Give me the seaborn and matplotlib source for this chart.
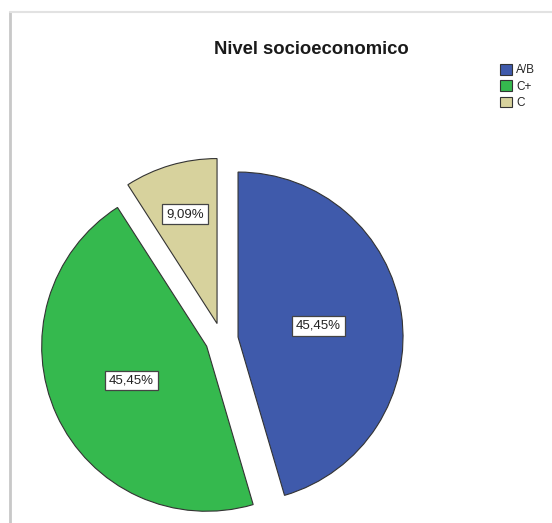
import matplotlib
matplotlib.use("Agg")
import matplotlib.pyplot as plt
from matplotlib.lines import Line2D
import numpy as np
import seaborn as sns

categories = ["A/B", "C+", "C"]
values = [45.45, 45.45, 9.09]
pct_labels = ["45,45%", "45,45%", "9,09%"]
colors = ["#3F5AAB", "#35B94E", "#D7D29D"]
title = "Nivel socioeconomico"

sns.set_theme(style="white")
plt.rcParams['font.family'] = ['Liberation Sans', 'DejaVu Sans']

W, H = 552, 523
fig = plt.figure(figsize=(W / 100, H / 100), dpi=100)
ax = fig.add_axes([0, 0, 1, 1])

cx, cy, R = 221.7, 339.4, 165.0  # pixel position of pie centre and radius

wedges, texts = ax.pie(values, colors=colors, startangle=90, counterclock=False,
                       explode=[0.1, 0.1, 0.1],
                       wedgeprops=dict(edgecolor="#333333", linewidth=0.8))

# label positions computed from the data (fraction of radius along mid angle)
total = sum(values)
start = 90.0
dist = [0.49, 0.5, 0.69]
for i, v in enumerate(values):
    ang = start - 360.0 * v / total / 2
    start -= 360.0 * v / total
    a = np.deg2rad(ang)
    ox, oy = 0.1 * np.cos(a), 0.1 * np.sin(a)
    ax.text(ox + dist[i] * np.cos(a), oy + dist[i] * np.sin(a), pct_labels[i],
            ha="center", va="center", fontsize=9.5, color="#222222",
            bbox=dict(boxstyle="square,pad=0.3", fc="white", ec="#444444", lw=0.9))

ax.set_xlim(-cx / R, (W - cx) / R)
ax.set_ylim(-(H - cy) / R, cy / R)
ax.set_aspect("auto")
ax.axis("off")

fig.text(311.5 / W, 1 - 54.3 / H, title, ha="center", va="baseline",
         fontsize=13.3, fontweight="bold", color="#1a1a1a")

fig.legend(wedges, categories, loc="upper left",
           bbox_to_anchor=(500 / W, 1 - 64 / H), frameon=False,
           fontsize=8.5, handlelength=1.0, handleheight=1.0,
           handletextpad=0.35, labelspacing=0.34, borderpad=0, borderaxespad=0)

# screenshot frame
fig.add_artist(Line2D([10 / W, 10 / W], [0, 1 - 12 / H], color="#c8c8c8", lw=2.0))
fig.add_artist(Line2D([10 / W, 1], [1 - 12 / H, 1 - 12 / H], color="#e2e2e2", lw=1.5))

fig.savefig("out.png", dpi=100)
